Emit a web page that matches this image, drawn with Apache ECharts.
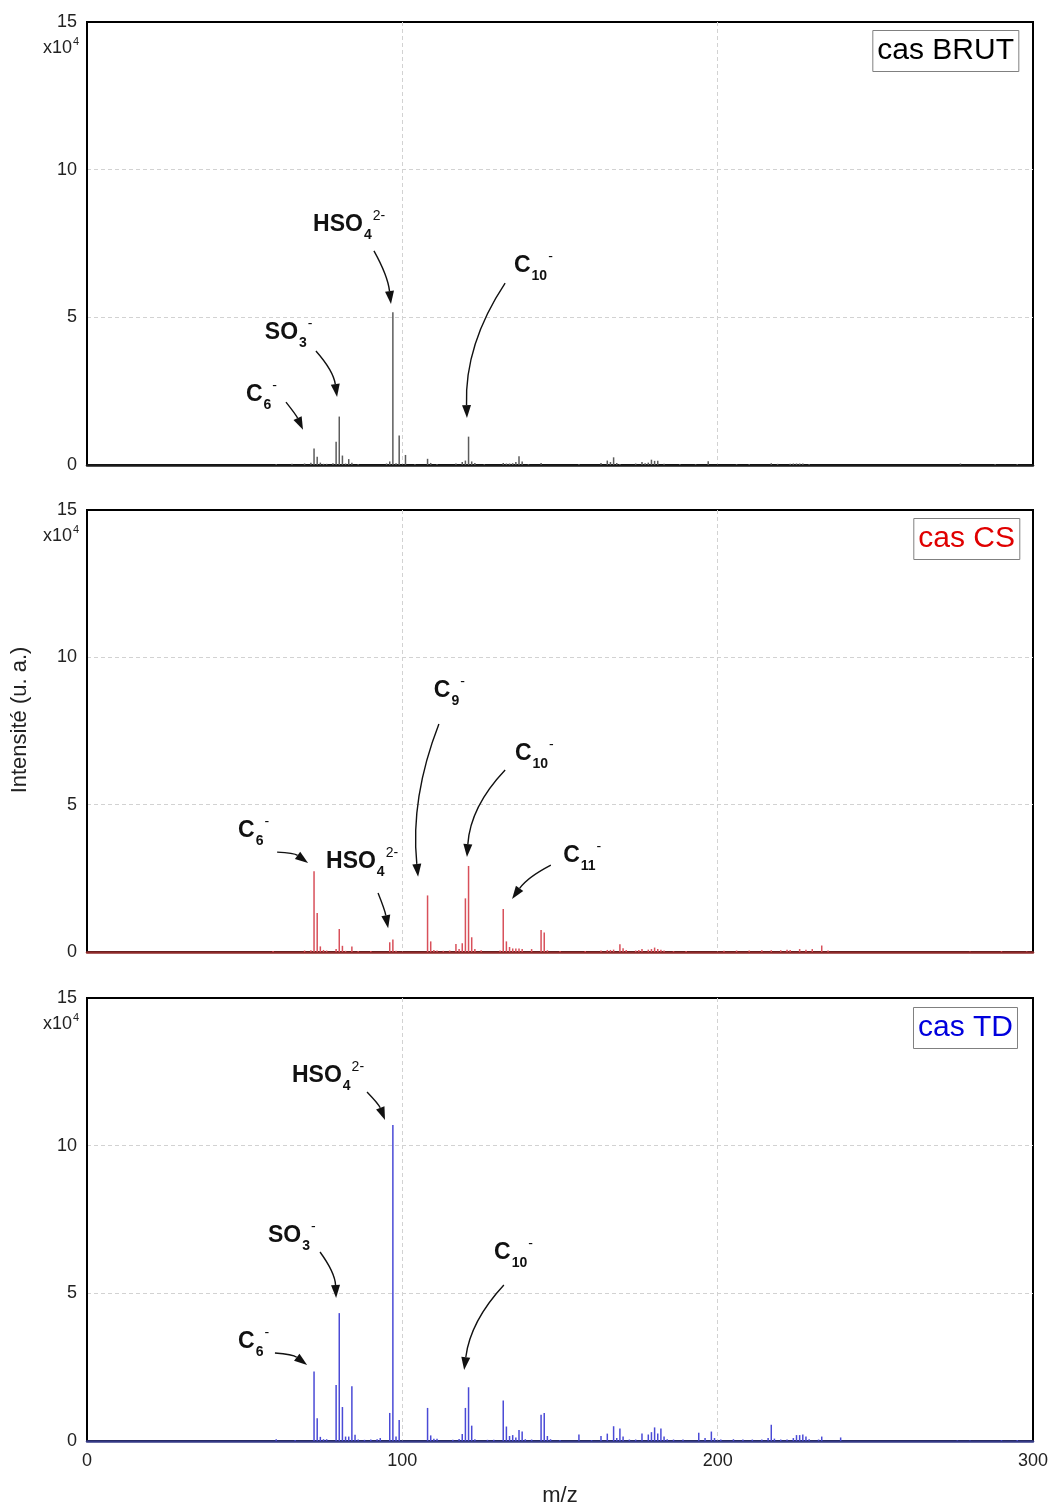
<!DOCTYPE html>
<html><head><meta charset="utf-8">
<script src="https://cdn.jsdelivr.net/npm/echarts@6/dist/echarts.min.js"></script>
<style>html,body{margin:0;padding:0;background:#fff}#c{width:1054px;height:1508px}</style>
</head><body><div id="c"></div>
<script>
const FONT = '"Liberation Sans", Arial, sans-serif';

// ---- data: [m/z, intensity (x10^4)] ----
const specBrut = [[60,0.03],[65,0.04],[69,0.05],[71,0.08],[72,0.56],[73,0.28],[74,0.08],[75,0.04],[76,0.04],[78,0.06],[79,0.79],[80,1.64],[81,0.32],[82,0.05],[83,0.2],[84,0.08],[86,0.03],[95,0.05],[96,0.12],[97,5.17],[98,0.06],[99,1.0],[101,0.34],[104,0.03],[108,0.21],[109,0.07],[111,0.03],[117,0.05],[119,0.1],[120,0.15],[121,0.96],[122,0.12],[123,0.07],[126,0.03],[132,0.07],[133,0.05],[134,0.05],[135,0.06],[136,0.1],[137,0.3],[138,0.12],[140,0.03],[144,0.07],[156,0.03],[163,0.07],[165,0.15],[166,0.1],[167,0.26],[168,0.07],[169,0.03],[174,0.05],[176,0.1],[177,0.06],[178,0.08],[179,0.18],[180,0.14],[181,0.14],[183,0.04],[188,0.03],[193,0.03],[197,0.13],[206,0.03],[210,0.03],[217,0.06],[219,0.04],[223,0.04],[224,0.05],[225,0.05],[226,0.05],[227,0.05],[229,0.03],[277,0.05],[288,0.03],[295,0.03]];
const specCS = [[59,0.03],[69,0.05],[71,0.06],[72,2.74],[73,1.32],[74,0.19],[75,0.07],[76,0.05],[79,0.1],[80,0.78],[81,0.21],[82,0.04],[84,0.19],[86,0.03],[90,0.03],[96,0.33],[97,0.42],[98,0.04],[108,1.92],[109,0.36],[110,0.07],[111,0.05],[113,0.04],[115,0.05],[117,0.27],[118,0.1],[119,0.3],[120,1.82],[121,2.92],[122,0.5],[123,0.1],[125,0.06],[131,0.05],[132,1.46],[133,0.36],[134,0.17],[135,0.12],[136,0.12],[137,0.12],[138,0.1],[141,0.1],[144,0.75],[145,0.66],[146,0.06],[150,0.03],[158,0.03],[163,0.05],[165,0.07],[166,0.07],[167,0.08],[169,0.26],[170,0.13],[171,0.07],[174,0.05],[175,0.07],[176,0.1],[178,0.08],[179,0.1],[180,0.15],[181,0.1],[182,0.08],[183,0.05],[186,0.03],[190,0.03],[202,0.04],[206,0.05],[210,0.05],[214,0.06],[217,0.06],[220,0.06],[222,0.08],[223,0.07],[226,0.1],[228,0.08],[230,0.1],[233,0.22],[235,0.05],[280,0.02],[290,0.03],[298,0.02]];
const specTD = [[60,0.06],[66,0.03],[72,2.35],[73,0.77],[74,0.14],[75,0.06],[76,0.06],[79,1.9],[80,4.33],[81,1.15],[82,0.15],[83,0.15],[84,1.85],[85,0.21],[86,0.05],[88,0.04],[90,0.05],[92,0.06],[93,0.1],[96,0.95],[97,10.7],[98,0.15],[99,0.71],[108,1.12],[109,0.19],[110,0.08],[111,0.08],[116,0.04],[118,0.07],[119,0.24],[120,1.12],[121,1.82],[122,0.52],[123,0.06],[127,0.04],[129,0.04],[132,1.37],[133,0.49],[134,0.17],[135,0.2],[136,0.12],[137,0.37],[138,0.32],[139,0.06],[141,0.05],[144,0.89],[145,0.95],[146,0.17],[147,0.06],[150,0.03],[156,0.22],[160,0.03],[163,0.17],[165,0.25],[167,0.5],[168,0.1],[169,0.42],[170,0.15],[172,0.05],[174,0.05],[176,0.25],[178,0.22],[179,0.3],[180,0.46],[181,0.25],[182,0.42],[183,0.15],[184,0.06],[186,0.05],[189,0.05],[194,0.28],[196,0.1],[198,0.32],[199,0.1],[201,0.05],[205,0.06],[208,0.05],[211,0.05],[214,0.05],[216,0.1],[217,0.55],[218,0.08],[220,0.05],[222,0.05],[224,0.1],[225,0.2],[226,0.2],[227,0.22],[228,0.15],[229,0.06],[232,0.05],[233,0.15],[239,0.12],[276,0.02],[280,0.02],[290,0.03],[295,0.03]];

const panelTitles = ['cas BRUT', 'cas CS', 'cas TD'];
const xTickValues = [0, 100, 200, 300];
const yTickValues = [0, 5, 10, 15];
const xAxisTitle = 'm/z';
const yAxisTitle = 'Intensité (u. a.)';

// annotations (label anchor & arrow ends in data units)
const annBrut = [
  {main:'HSO', sub:'4', sup:'2-', lx:71.7, ly:8.13, a1:[91.0,7.25], a2:[96.4,5.45], bend:-0.1},
  {main:'C', sub:'10', sup:'-', lx:135.4, ly:6.74, a1:[132.6,6.16], a2:[120.5,1.59], bend:0.16},
  {main:'SO', sub:'3', sup:'-', lx:56.4, ly:4.47, a1:[72.6,3.86], a2:[79.3,2.30], bend:-0.15},
  {main:'C', sub:'6', sup:'-', lx:50.4, ly:2.37, a1:[63.1,2.13], a2:[68.5,1.19], bend:-0.06}
];
const annCS = [
  {main:'C', sub:'6', sup:'-', lx:47.9, ly:4.11, a1:[60.3,3.39], a2:[70.1,3.02], bend:-0.15},
  {main:'HSO', sub:'4', sup:'2-', lx:75.8, ly:3.05, a1:[92.3,2.0], a2:[95.5,0.81], bend:-0.05},
  {main:'C', sub:'9', sup:'-', lx:110.0, ly:8.86, a1:[111.6,7.74], a2:[105.0,2.55], bend:0.12},
  {main:'C', sub:'10', sup:'-', lx:135.7, ly:6.72, a1:[132.6,6.18], a2:[120.5,3.22], bend:0.18},
  {main:'C', sub:'11', sup:'-', lx:151.0, ly:3.26, a1:[147.1,2.95], a2:[134.8,1.80], bend:0.12}
];
const annTD = [
  {main:'HSO', sub:'4', sup:'2-', lx:65.0, ly:12.36, a1:[88.8,11.82], a2:[94.5,10.87], bend:-0.1},
  {main:'SO', sub:'3', sup:'-', lx:57.4, ly:6.94, a1:[73.9,6.40], a2:[79.0,4.84], bend:-0.15},
  {main:'C', sub:'6', sup:'-', lx:47.9, ly:3.35, a1:[59.6,2.98], a2:[69.8,2.57], bend:-0.15},
  {main:'C', sub:'10', sup:'-', lx:129.1, ly:6.37, a1:[132.2,5.28], a2:[119.6,2.40], bend:0.16}
];

const panels = [
  {spec:specBrut, ann:annBrut, color:'#5c5c5c', base:'#1a1a1a', tcolor:'#000000', top:22, height:443, tRight:35, tTop:30},
  {spec:specCS, ann:annCS, color:'#d8505a', base:'#8e2a2a', tcolor:'#e00000', top:510, height:442, tRight:34, tTop:518},
  {spec:specTD, ann:annTD, color:'#4a4ad6', base:'#343a86', tcolor:'#0000dd', top:998, height:443, tRight:36, tTop:1007}
];

const chart = echarts.init(document.getElementById('c'), null, {renderer:'canvas'});
const option = {
  animation: false,
  backgroundColor: '#fff',
  title: panels.map((p, i) => ({
    text: panelTitles[i], right: p.tRight, top: p.tTop,
    padding: [6, 5], borderColor: '#808080', borderWidth: 1,
    textStyle: {fontFamily: FONT, fontSize: 30, fontWeight: 'normal', color: p.tcolor}
  })),
  grid: panels.map(p => ({left: 87, right: 21, top: p.top, height: p.height, show: true, borderColor: '#000', borderWidth: 2, backgroundColor: 'transparent'})),
  xAxis: panels.map((p, i) => ({
    gridIndex: i, type: 'value', min: xTickValues[0], max: xTickValues[xTickValues.length-1], interval: 100,
    axisLine: {show: true, onZero: false, lineStyle: {color: p.base, width: 2.5}},
    axisTick: {show: false},
    axisLabel: {show: i === 2, fontFamily: FONT, fontSize: 18, color: '#222', margin: 11},
    splitLine: {show: true, showMinLine: false, showMaxLine: false, lineStyle: {color: '#d2d2d2', type: [4, 3], width: 1}}
  })),
  yAxis: panels.map((p, i) => ({
    gridIndex: i, type: 'value', min: yTickValues[0], max: yTickValues[yTickValues.length-1], interval: 5,
    axisLine: {show: true, lineStyle: {color: '#000', width: 2}},
    axisTick: {show: false},
    axisLabel: {fontFamily: FONT, fontSize: 18, color: '#222', margin: 10},
    splitLine: {show: true, showMinLine: false, showMaxLine: false, lineStyle: {color: '#d2d2d2', type: [4, 3], width: 1}}
  })),
  series: panels.map((p, i) => ({
    type: 'bar', xAxisIndex: i, yAxisIndex: i, barWidth: 1.5, silent: true,
    itemStyle: {color: p.color},
    data: p.spec.map(d => [d[0], d[1]])
  }))
};
chart.setOption(option);

// ---- annotations ----
const ctx = document.createElement('canvas').getContext('2d');
function tw(text, font) { ctx.font = font; return ctx.measureText(text).width; }
const fMain = 'bold 23px ' + FONT, fSub = 'bold 14px ' + FONT, fSup = '14px ' + FONT;
const g = [];
panels.forEach((p, i) => {
  const px = v => chart.convertToPixel({gridIndex: i}, v);
  p.ann.forEach(a => {
    const L = px([a.lx, a.ly]);
    const wm = tw(a.main, fMain);
    g.push({type:'text', x: L[0], y: L[1], style:{text:a.main, font:fMain, fill:'#111', align:'left', verticalAlign:'middle'}});
    const sx = L[0] + wm + 1;
    g.push({type:'text', x: sx, y: L[1] + 10, style:{text:a.sub, font:fSub, fill:'#111', align:'left', verticalAlign:'middle'}});
    const sw = tw(a.sub, fSub);
    g.push({type:'text', x: sx + sw + 1, y: L[1] - 9, style:{text:a.sup, font:fSup, fill:'#111', align:'left', verticalAlign:'middle'}});
    const P1 = px(a.a1), P2 = px(a.a2);
    const dx = P2[0]-P1[0], dy = P2[1]-P1[1];
    const cx = (P1[0]+P2[0])/2 + (-dy) * a.bend;
    const cy = (P1[1]+P2[1])/2 + (dx) * a.bend;
    let tx = P2[0]-cx, ty = P2[1]-cy; const tl = Math.hypot(tx, ty); tx/=tl; ty/=tl;
    const AL = 13, AW = 4.5;
    const bx = P2[0]-tx*AL, by = P2[1]-ty*AL;
    g.push({type:'bezierCurve', shape:{x1:P1[0], y1:P1[1], x2:bx, y2:by, cpx1:cx, cpy1:cy}, style:{stroke:'#111', lineWidth:1.4, fill:null}});
    g.push({type:'polygon', shape:{points:[[P2[0],P2[1]],[bx - ty*AW, by + tx*AW],[bx + ty*AW, by - tx*AW]]}, style:{fill:'#111'}});
  });
  const T = px([0, 15]);
  g.push({type:'text', x: T[0]-15, y: T[1]+26, style:{text:'x10', font:'18px '+FONT, fill:'#222', align:'right', verticalAlign:'middle'}});
  g.push({type:'text', x: T[0]-14, y: T[1]+20, style:{text:'4', font:'11px '+FONT, fill:'#222', align:'left', verticalAlign:'middle'}});
});
g.push({type:'text', x: 560, y: 1496, style:{text:xAxisTitle, font:'22px '+FONT, fill:'#222', align:'center', verticalAlign:'middle'}});
g.push({type:'text', x: 20, y: 720, rotation: Math.PI/2, style:{text:yAxisTitle, font:'22px '+FONT, fill:'#222', align:'center', verticalAlign:'middle'}});
chart.setOption({graphic: g});
</script>
</body></html>
